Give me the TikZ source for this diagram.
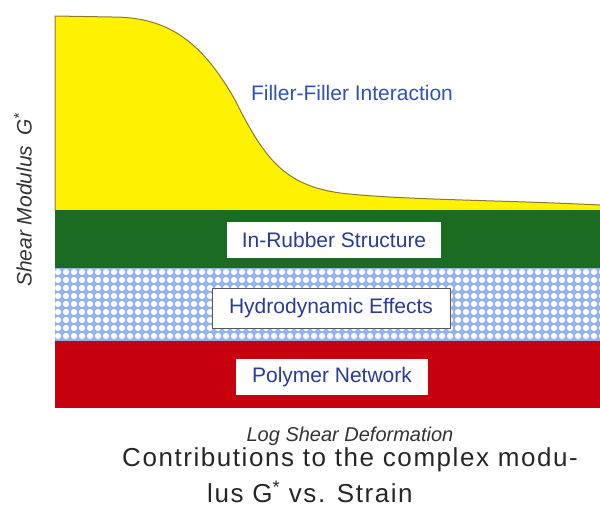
\documentclass[tikz,border=0pt]{standalone}
\usepackage{fontspec}
\setmainfont{Liberation Sans}
\newfontfamily\titlefont[LetterSpace=6]{Liberation Sans}
\definecolor{yellowc}{HTML}{FFF200}
\definecolor{edgec}{HTML}{8A7A30}
\definecolor{greenc}{HTML}{1B6B22}
\definecolor{bluec}{HTML}{93B3EE}
\definecolor{redc}{HTML}{C6000E}
\definecolor{textblue}{HTML}{2A3A9A}
\definecolor{fillerblue}{HTML}{3050BE}
\definecolor{labelgray}{HTML}{333333}
\begin{document}
\begin{tikzpicture}[x=1pt,y=-1pt,
  boxw/.style={fill=white, text=textblue, inner sep=0pt, font=\fontsize{21}{24}\selectfont},
  axislbl/.style={text=labelgray, font=\fontsize{21}{24}\selectfont\itshape},
  titlelbl/.style={text=black!85, anchor=west, inner sep=0pt, font=\fontsize{26}{30}\selectfont\titlefont}]
\useasboundingbox (0,0) rectangle (600,520);
% yellow filler-filler region
\fill[yellowc] (55,210) -- (55,16) -- (112,17)
  .. controls (165,17) and (200,38) .. (235,100)
  .. controls (265,160) and (285,185) .. (340,193)
  .. controls (400,200) and (500,200) .. (600,205) -- (600,210) -- cycle;
\draw[edgec, line width=1pt] (55,210) -- (55,16) -- (112,17)
  .. controls (165,17) and (200,38) .. (235,100)
  .. controls (265,160) and (285,185) .. (340,193)
  .. controls (400,200) and (500,200) .. (600,205);
% green band
\fill[greenc] (55,210) rectangle (600,268);
% blue dotted band
\fill[bluec] (55,268) rectangle (600,341);
\begin{scope}
  \clip (55,268) rectangle (600,341);
  \foreach \i in {0,...,68} {
    \foreach \j in {0,...,9} {
      \fill[white] (58+\i*8, 272+\j*8) circle (3.1pt);
    }
  }
\end{scope}
% red band
\fill[redc] (55,341) rectangle (600,408);
% labels
\node[text=fillerblue, font=\fontsize{21}{24}\selectfont] (filler) at (352,93) {Filler-Filler Interaction};
\node[boxw, minimum width=214pt, minimum height=36pt] (rubber) at (334,240) {In-Rubber Structure};
\node[boxw, draw=gray!70!black, line width=0.8pt, minimum width=238pt, minimum height=40pt] (hydro) at (331,308) {Hydrodynamic Effects};
\node[boxw, minimum width=192pt, minimum height=36pt] (poly) at (332,377) {Polymer Network};
\node[axislbl, rotate=90] (ylab) at (23,200) {Shear Modulus\hspace{10pt}G\textsuperscript{*}};
\node[axislbl, font=\fontsize{20}{24}\selectfont\itshape] (xlab) at (350,436) {Log Shear Deformation};
\node[titlelbl] (title1) at (122,460) {Contributions to the complex modu-};
\node[titlelbl] (title2) at (207,492) {lus G\textsuperscript{*} vs. Strain};
\end{tikzpicture}
\end{document}
